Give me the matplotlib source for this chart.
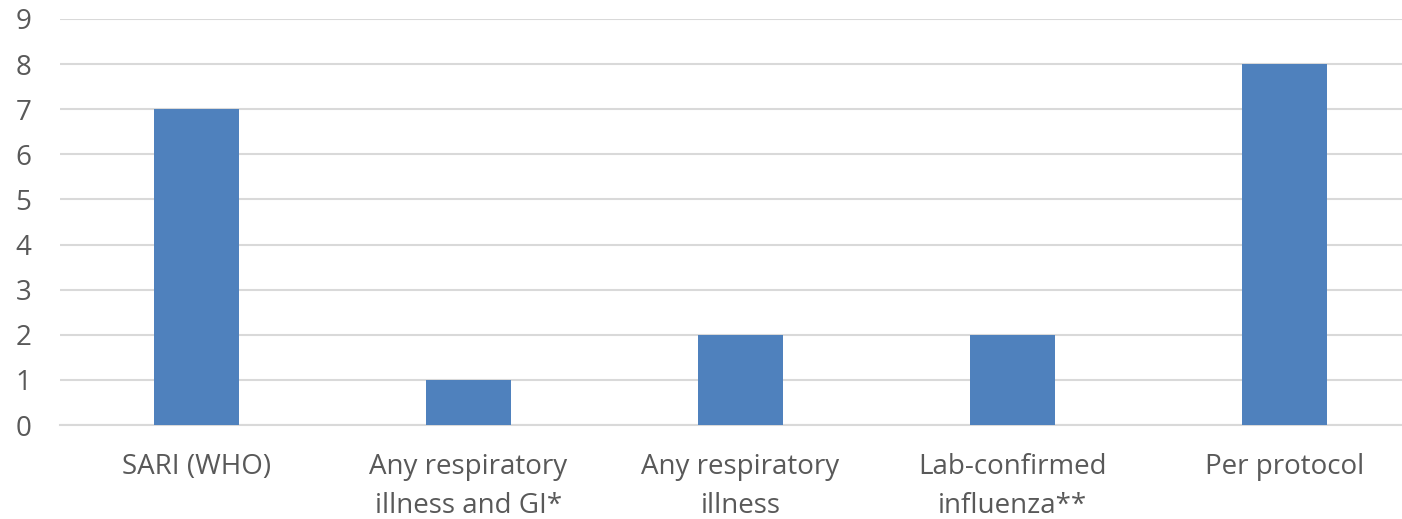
import matplotlib
matplotlib.use("Agg")
import matplotlib.pyplot as plt

# data
categories = ['SARI (WHO)', 'Any respiratory\nillness and GI*', 'Any respiratory\nillness',
              'Lab-confirmed\ninfluenza**', 'Per protocol']
counts = [7, 1, 2, 2, 8]
yticks = list(range(0, 10))

plt.rcParams['font.family'] = ['Open Sans', 'DejaVu Sans']

fig = plt.figure(figsize=(14.02, 5.19), dpi=100)
# plot area runs a little past the right edge of the image, as in the reference
ax = fig.add_axes([0.0431, 0.1811, 0.9700, 0.7823])

x = list(range(len(categories)))
ax.bar(x, counts, width=0.3125, color='#4F81BD', zorder=3)

ax.set_xlim(-0.5, len(categories) - 0.5)
ax.set_ylim(0, 9)
ax.set_yticks(yticks)
ax.set_xticks(x)
ax.set_xticklabels(categories, linespacing=1.55)

ax.grid(axis='y', color='#D9D9D9', linewidth=1.5, zorder=0)
for s in ['top', 'right', 'left']:
    ax.spines[s].set_visible(False)
ax.spines['bottom'].set_color('#D9D9D9')
ax.spines['bottom'].set_linewidth(1.5)

ax.tick_params(axis='both', length=0, labelsize=20, labelcolor='#595959')
ax.tick_params(axis='y', pad=21)
ax.tick_params(axis='x', pad=20)

fig.savefig('out.png', dpi=100)
